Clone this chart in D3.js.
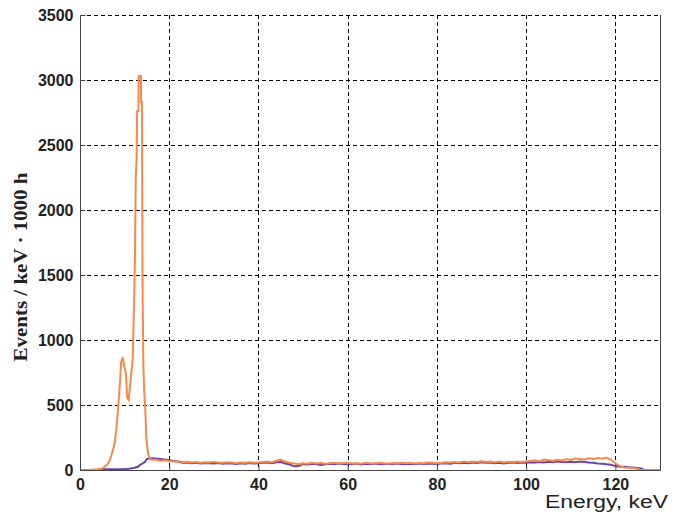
<!DOCTYPE html>
<html><head><meta charset="utf-8">
<script src="https://cdn.jsdelivr.net/npm/d3@7"></script>
<style>
html,body{margin:0;padding:0;background:#fff;}
svg{display:block;}
</style></head>
<body>
<svg id="chart" width="676" height="514"></svg>
<script>
// ---- data ----
const xTicks = [0, 20, 40, 60, 80, 100, 120];
const yTicks = [0, 500, 1000, 1500, 2000, 2500, 3000, 3500];

// orange spectrum: energy (keV) and events
const orangeE = [0,2,3,4,5,5.5,6,6.5,7,7.5,7.8,8.2,8.6,9.0,9.2,9.5,9.7,9.9,10.3,10.5,10.6,10.9,11.2,11.5,11.8,12.0,12.3,12.5,12.7,12.8,13.1,13.15,13.65,13.7,13.9,14.0,14.2,14.4,14.6,14.9,15.3,15.7,
  16,17,18,19,20,21,22,23,24,25,26,27,28,29,30,31,32,33,34,35,36,37,38,39,40,41,42,43,44,45,46,47,48,49,50,
  51,52,53,54,55,56,57,58,59,60,61,62,63,64,65,66,67,68,69,70,71,72,73,74,75,76,77,78,79,80,
  81,82,83,84,85,86,87,88,89,90,91,92,93,94,95,96,97,98,99,100,101,102,103,104,105,106,107,108,109,110,
  111,112,113,114,115,116,117,118,119,120,121,122,123,124,125,125.5,130];
const orangeV = [0,0,3,5,12,25,38,60,110,170,210,330,500,690,830,860,850,795,745,600,555,540,640,745,840,1100,1600,2250,2400,2760,2760,3030,3030,2830,2830,1500,800,600,490,230,115,90,
  80,78,72,75,70,66,68,62,64,58,62,55,60,57,63,58,55,60,57,52,58,55,60,56,58,62,66,60,72,78,65,55,50,45,52,
  48,55,50,53,48,52,55,50,53,55,50,52,48,55,52,50,55,52,48,54,50,55,52,56,50,54,52,58,55,52,
  55,60,57,62,58,65,60,66,62,68,62,66,60,65,58,63,60,65,62,66,70,74,68,80,76,72,78,74,82,78,
  88,85,80,90,85,92,86,95,80,50,30,20,18,15,10,0,0];

// purple spectrum
const purpleE = [0,4,5,10,11,12,13,13.5,14,14.5,15,
  16,17,18,19,20,21,22,23,24,25,26,27,28,29,30,31,32,33,34,35,36,37,38,39,40,41,42,43,44,45,46,47,48,49,50,
  51,52,53,54,55,56,57,58,59,60,61,62,63,64,65,66,67,68,69,70,71,72,73,74,75,76,77,78,79,80,
  81,82,83,84,85,86,87,88,89,90,91,92,93,94,95,96,97,98,99,100,101,102,103,104,105,106,107,108,109,110,
  111,112,113,114,115,116,117,118,119,120,121,122,123,124,125,126,126.5,130];
const purpleV = [0,0,5,8,10,15,25,40,50,60,85,
  90,88,85,80,75,70,65,55,58,52,55,50,54,52,50,54,48,52,50,46,52,48,54,50,52,55,58,52,60,62,50,42,28,30,45,
  42,48,45,38,44,48,45,50,46,48,45,50,42,48,45,50,46,44,48,45,50,46,44,48,45,50,46,48,50,46,
  50,52,48,55,52,56,52,58,54,60,55,58,52,56,50,55,58,54,58,56,60,58,62,58,64,60,66,62,60,64,
  60,66,62,58,55,50,48,45,40,30,25,25,22,20,15,10,0,0];

// ---- layout ----
const L = 80, R = 660, T = 15, B = 470;
const svg = d3.select("#chart");
const x = d3.scaleLinear().domain([0, 130]).range([L, R]);
const y = d3.scaleLinear().domain([0, 3500]).range([B, T]);

// grid
const grid = svg.append("g").attr("stroke", "#000").attr("stroke-width", 1).attr("stroke-dasharray", "4,3");
grid.selectAll(".gx").data(xTicks.filter(d => d > 0)).join("line")
  .attr("x1", d => Math.round(x(d)) + 0.5).attr("x2", d => Math.round(x(d)) + 0.5)
  .attr("y1", T).attr("y2", B);
grid.selectAll(".gy").data(yTicks.filter(d => d > 0)).join("line")
  .attr("x1", L).attr("x2", R)
  .attr("y1", d => Math.round(y(d)) + 0.5).attr("y2", d => Math.round(y(d)) + 0.5);

// series
const line = d3.line().x(d => x(d[0])).y(d => y(d[1]));
svg.append("path").datum(purpleE.map((e, i) => [e, purpleV[i]]))
  .attr("d", line).attr("fill", "none").attr("stroke", "#6a44a8").attr("stroke-width", 2);
svg.append("path").datum(orangeE.map((e, i) => [e, orangeV[i]]))
  .attr("d", line).attr("fill", "none").attr("stroke", "#f7894a").attr("stroke-width", 2);

// frame (left, bottom, right)
svg.append("path")
  .attr("d", `M${L + 0.5},${T} V${B + 0.5} H${R + 0.5} V${T}`)
  .attr("fill", "none").attr("stroke", "#444").attr("stroke-width", 1);

// axes
const fmt = d3.format("d");
const xAxis = svg.append("g").attr("transform", `translate(0,${B + 0.5})`)
  .call(d3.axisBottom(x).tickValues(xTicks).tickFormat(fmt).tickSizeInner(-5).tickSizeOuter(0).tickPadding(8));
const yAxis = svg.append("g").attr("transform", `translate(${L + 0.5},0)`)
  .call(d3.axisLeft(y).tickValues(yTicks).tickFormat(fmt).tickSizeInner(-5).tickSizeOuter(0).tickPadding(7));
[xAxis, yAxis].forEach(a => {
  a.select(".domain").remove();
  a.selectAll(".tick line").attr("stroke", "#444");
  a.selectAll(".tick text").attr("font-family", "'Liberation Sans', Arial, sans-serif")
    .attr("font-weight", "bold").attr("font-size", 16).attr("fill", "#222");
});

// labels
svg.append("text").attr("x", 668).attr("y", 508).attr("text-anchor", "end")
  .attr("font-family", "'Liberation Sans', Arial, sans-serif").attr("font-size", 18).attr("fill", "#222")
  .attr("textLength", 123).attr("lengthAdjust", "spacingAndGlyphs")
  .text("Energy, keV");
svg.append("text").attr("transform", "translate(27,267) rotate(-90)").attr("text-anchor", "middle")
  .attr("font-family", "'Liberation Serif', 'Times New Roman', serif").attr("font-weight", "bold")
  .attr("font-size", 18).attr("fill", "#222")
  .attr("textLength", 189).attr("lengthAdjust", "spacingAndGlyphs")
  .text("Events / keV · 1000 h");
</script>
</body></html>
